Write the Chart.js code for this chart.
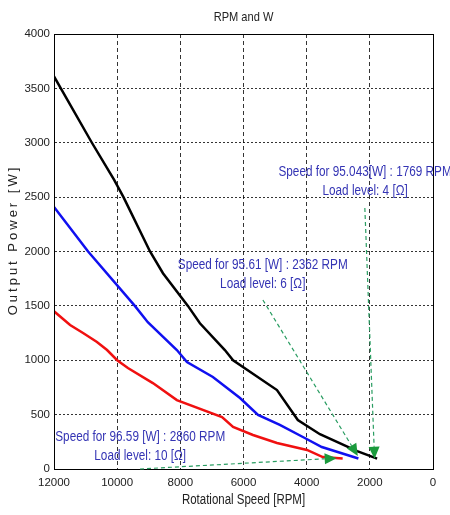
<!DOCTYPE html>
<html>
<head>
<meta charset="utf-8">
<script src="https://cdn.jsdelivr.net/npm/chart.js@4/dist/chart.umd.min.js"></script>
<style>
  body { margin: 0; background: #fff; }
  #wrap { width: 450px; height: 515px; }
</style>
</head>
<body>
<div id="wrap"><canvas id="rpmChart" width="450" height="515"></canvas></div>
<script>
// values (rpm, W)
const blackRpm = [12000, 10800, 10100, 9800, 8960, 8550, 7760, 7380, 6590, 6330, 4940, 4280, 3580, 2400, 1769];
const blackW   = [3610, 3000, 2660, 2500, 2000, 1800, 1500, 1340, 1094, 1000, 726, 450, 320, 165, 95];

const blueRpm = [12000, 10920, 9440, 9030, 8110, 7790, 6970, 6110, 5540, 4850, 4060, 3520, 2362];
const blueW   = [2410, 2000, 1500, 1350, 1094, 984, 846, 653, 497, 405, 285, 202, 96];

const redRpm = [12000, 11490, 11080, 10640, 10320, 10000, 9660, 8870, 8110, 6680, 6330, 5700, 4940, 3990, 3490, 2860];
const redW   = [1450, 1324, 1250, 1168, 1094, 1000, 928, 790, 634, 478, 386, 313, 239, 175, 110, 97];

const xTicks = [12000, 10000, 8000, 6000, 4000, 2000, 0];
const yTicks = [0, 500, 1000, 1500, 2000, 2500, 3000, 3500, 4000];

// notes: text lines, text anchor (rpm, W), arrow tail and head (rpm, W)
const noteLines = [
  ['Speed for 95.043[W] : 1769 RPM', 'Load level: 4 [\u03A9]'],
  ['Speed for 95.61 [W] : 2362 RPM', 'Load level: 6 [\u03A9]'],
  ['Speed for 96.59 [W] : 2860 RPM', 'Load level: 10 [\u03A9]']
];
const noteAt    = [[2150, 2730], [5390, 1876], [9270, 294]];
const arrowFrom = [[2158, 2400], [5386, 1554], [9278, 0]];
const arrowTo   = [[1850, 95], [2380, 120], [3050, 100]];

function toPoints(xs, ys) {
  return xs.map(function (x, i) { return { x: x, y: ys[i] }; });
}

const sans = "'Liberation Sans', Arial, sans-serif";

// squeezed text, the original uses a narrow face
function narrowText(ctx, text, x, y, sx) {
  ctx.save();
  ctx.translate(x, y);
  ctx.scale(sx, 1);
  ctx.fillText(text, 0, 0);
  ctx.restore();
}

const boxAndNotes = {
  id: 'boxAndNotes',
  afterDatasetsDraw: function (chart) {
    const ctx = chart.ctx;
    const a = chart.chartArea;
    const xs = chart.scales.x;
    const ys = chart.scales.y;
    const midX = (a.left + a.right) / 2;

    // full box like the original plot
    ctx.save();
    ctx.strokeStyle = '#000';
    ctx.lineWidth = 1;
    ctx.strokeRect(a.left + 0.5, a.top + 0.5, a.right - a.left, a.bottom - a.top);
    ctx.restore();

    // green dashed arrows
    for (let i = 0; i < arrowFrom.length; i++) {
      const x1 = xs.getPixelForValue(arrowFrom[i][0]);
      const y1 = ys.getPixelForValue(arrowFrom[i][1]);
      const x2 = xs.getPixelForValue(arrowTo[i][0]);
      const y2 = ys.getPixelForValue(arrowTo[i][1]);
      const ang = Math.atan2(y2 - y1, x2 - x1);
      const len = 12, half = 5.5;
      const bx = x2 - len * Math.cos(ang), by = y2 - len * Math.sin(ang);
      ctx.save();
      ctx.strokeStyle = '#2a9d62';
      ctx.lineWidth = 1.2;
      ctx.setLineDash([4, 3]);
      ctx.beginPath();
      ctx.moveTo(x1, y1);
      ctx.lineTo(bx, by);
      ctx.stroke();
      ctx.setLineDash([]);
      ctx.fillStyle = '#1a9a3c';
      ctx.beginPath();
      ctx.moveTo(x2, y2);
      ctx.lineTo(bx + half * Math.sin(ang), by - half * Math.cos(ang));
      ctx.lineTo(bx - half * Math.sin(ang), by + half * Math.cos(ang));
      ctx.closePath();
      ctx.fill();
      ctx.restore();
    }

    // blue note text
    ctx.save();
    ctx.fillStyle = '#3434b4';
    ctx.font = '14px ' + sans;
    ctx.textAlign = 'center';
    ctx.textBaseline = 'middle';
    for (let i = 0; i < noteLines.length; i++) {
      const tx = xs.getPixelForValue(noteAt[i][0]);
      const ty = ys.getPixelForValue(noteAt[i][1]);
      noteLines[i].forEach(function (line, j) {
        narrowText(ctx, line, tx, ty + j * 19, 0.84);
      });
    }
    ctx.restore();

    // titles
    ctx.save();
    ctx.fillStyle = '#222';
    ctx.textAlign = 'center';
    ctx.textBaseline = 'middle';
    ctx.font = '13.5px ' + sans;
    narrowText(ctx, 'RPM and W', midX, 17, 0.82);
    ctx.font = '14px ' + sans;
    narrowText(ctx, 'Rotational Speed [RPM]', midX, 500, 0.82);
    ctx.translate(13, 240);
    ctx.rotate(-Math.PI / 2);
    ctx.font = '13px ' + sans;
    ctx.letterSpacing = '3px';
    ctx.fillText('Output Power [W]', 0, 0);
    ctx.restore();
  }
};

const ctx = document.getElementById('rpmChart').getContext('2d');
new Chart(ctx, {
  type: 'line',
  data: {
    datasets: [
      { label: '4 ohm', data: toPoints(blackRpm, blackW), borderColor: '#000', borderWidth: 2.5 },
      { label: '6 ohm', data: toPoints(blueRpm, blueW), borderColor: '#1010f0', borderWidth: 2.5 },
      { label: '10 ohm', data: toPoints(redRpm, redW), borderColor: '#f01010', borderWidth: 2.5 }
    ]
  },
  options: {
    responsive: false,
    animation: false,
    parsing: false,
    elements: { point: { radius: 0 }, line: { tension: 0 } },
    layout: { padding: { top: 34, right: 17, bottom: 0, left: 0 } },
    plugins: {
      legend: { display: false },
      tooltip: { enabled: false }
    },
    scales: {
      x: {
        type: 'linear',
        reverse: true,
        min: 0,
        max: 12000,
        afterFit: function (s) { s.height = 46; },
        afterBuildTicks: function (s) { s.ticks = xTicks.map(function (v) { return { value: v }; }); },
        ticks: {
          color: '#222', font: { family: sans, size: 11.5 }, padding: 7, maxRotation: 0,
          callback: function (v) { return String(v); }
        },
        grid: { color: '#000', lineWidth: 0.8, drawTicks: false },
        border: { display: true, color: '#000', width: 1, dash: [4, 3] }
      },
      y: {
        min: 0,
        max: 4000,
        afterFit: function (s) { s.width = 54; },
        afterBuildTicks: function (s) { s.ticks = yTicks.map(function (v) { return { value: v }; }); },
        ticks: {
          color: '#222', font: { family: sans, size: 11.5 }, padding: 4,
          callback: function (v) { return String(v); }
        },
        grid: { color: '#000', lineWidth: 0.8, drawTicks: false },
        border: { display: true, color: '#000', width: 1, dash: [2, 2] }
      }
    }
  },
  plugins: [boxAndNotes]
});
</script>
</body>
</html>
